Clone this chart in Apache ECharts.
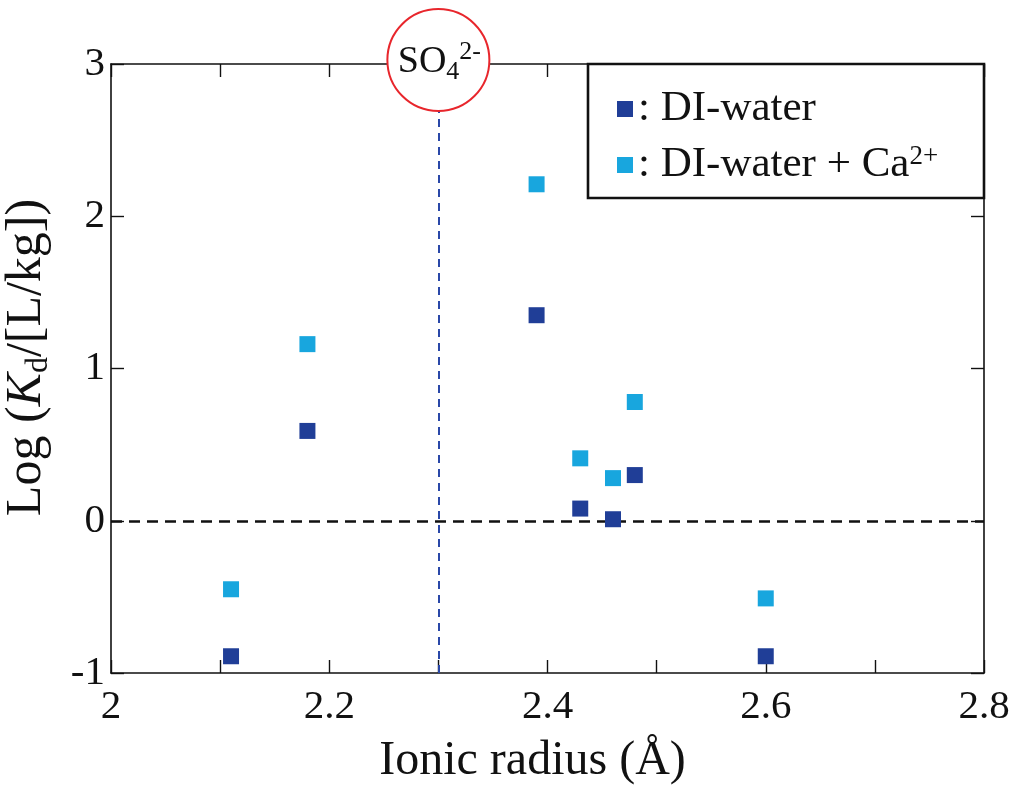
<!DOCTYPE html>
<html>
<head>
<meta charset="utf-8">
<script src="https://cdn.jsdelivr.net/npm/echarts@6/dist/echarts.min.js"></script>
<style>
  html, body { margin: 0; padding: 0; background: #ffffff; }
  #chart { width: 1014px; height: 789px; }
</style>
</head>
<body>
<div id="chart"></div>
<script>
// Ionic radius of each oxyanion (Å)
const radius = [2.11, 2.18, 2.39, 2.43, 2.46, 2.48, 2.60];
// Log Kd in deionised water
const logKdWater = [-0.89, 0.59, 1.35, 0.08, 0.01, 0.30, -0.89];
// Log Kd in deionised water with added Ca2+
const logKdWaterCa = [-0.45, 1.16, 2.21, 0.41, 0.28, 0.78, -0.51];

const seriesNames = ['DI-water', 'DI-water + Ca2+'];
const seriesColors = ['#203e97', '#18a6de'];
const so4Radius = 2.3;   // sulfate reference radius
const xRange = [2, 2.8];
const yRange = [-1, 3];

const FONT = "'Liberation Serif', 'Times New Roman', serif";
const INK = '#111111';

const chart = echarts.init(document.getElementById('chart'), null, { renderer: 'canvas' });

function pairs(xs, ys) { return xs.map((x, i) => [x, ys[i]]); }

const axisLine = { show: true, onZero: false, lineStyle: { color: INK, width: 1.6 } };
const tick = { show: true, inside: true, length: 13, lineStyle: { color: INK, width: 1.4 } };

const option = {
  backgroundColor: '#ffffff',
  animation: false,
  grid: { left: 111, right: 30, top: 64, bottom: 116, outerBoundsMode: 'none' },
  xAxis: [
    {
      type: 'value', min: xRange[0], max: xRange[1], interval: 0.1, position: 'bottom',
      axisLine, axisTick: tick, splitLine: { show: false },
      axisLabel: {
        margin: 14, color: INK, fontFamily: FONT, fontSize: 41,
        formatter: (v, i) => (i % 2 === 0 ? String(+v.toFixed(1)) : '')
      },
      name: 'Ionic radius (Å)', nameLocation: 'middle', nameGap: 64,
      nameTextStyle: { color: INK, fontFamily: FONT, fontSize: 48, verticalAlign: 'top', padding: [0, 30, 0, 0] }
    },
    {
      type: 'value', min: xRange[0], max: xRange[1], interval: 0.1, position: 'top',
      axisLine, axisTick: tick, axisLabel: { show: false }, splitLine: { show: false }
    }
  ],
  yAxis: [
    {
      type: 'value', min: yRange[0], max: yRange[1], interval: 1, position: 'left',
      axisLine, axisTick: tick, splitLine: { show: false },
      axisLabel: { margin: 6, color: INK, fontFamily: FONT, fontSize: 41 },
      name: 'Log ({i|K}{sub|d}/[L/kg])', nameLocation: 'middle', nameGap: 56, nameRotate: 90,
      nameTextStyle: {
        color: INK, fontFamily: FONT, fontSize: 50, lineHeight: 56, padding: [0, 0, 0, 22],
        rich: {
          i: { fontFamily: FONT, fontSize: 50, fontStyle: 'italic', color: INK, lineHeight: 56 },
          sub: { fontFamily: FONT, fontSize: 32, color: INK, verticalAlign: 'bottom', lineHeight: 56 }
        }
      }
    },
    {
      type: 'value', min: yRange[0], max: yRange[1], interval: 1, position: 'right',
      axisLine, axisTick: tick, axisLabel: { show: false }, splitLine: { show: false }
    }
  ],
  legend: {
    orient: 'vertical', left: 612, top: 82,
    itemWidth: 16, itemHeight: 16, itemGap: 12, icon: 'rect',
    data: seriesNames,
    formatter: (name) => name === seriesNames[1] ? ': DI-water + Ca{sup|2+}' : ': ' + name,
    textStyle: {
      color: INK, fontFamily: FONT, fontSize: 43, lineHeight: 44,
      rich: { sup: { fontFamily: FONT, fontSize: 27, color: INK, verticalAlign: 'top', lineHeight: 44 } }
    },
    z: 20
  },
  series: [
    {
      // reference lines: zero level and sulfate radius
      type: 'line', data: [], z: 1, silent: true,
      markLine: {
        silent: true, symbol: ['none', 'none'], label: { show: false },
        data: [
          { yAxis: 0, lineStyle: { color: INK, width: 2.6, type: [11, 7] } },
          { xAxis: so4Radius, lineStyle: { color: '#2a48a8', width: 2, type: [8, 6] } }
        ]
      }
    },
    {
      name: seriesNames[0], type: 'scatter', symbol: 'rect', symbolSize: 16, z: 5,
      itemStyle: { color: seriesColors[0], opacity: 1 },
      data: pairs(radius, logKdWater)
    },
    {
      name: seriesNames[1], type: 'scatter', symbol: 'rect', symbolSize: 16, z: 5,
      itemStyle: { color: seriesColors[1], opacity: 1 },
      data: pairs(radius, logKdWaterCa)
    }
  ]
};

chart.setOption(option);

// Annotations placed from the axes: the SO4 2- bubble and the legend frame
const cx = chart.convertToPixel({ xAxisIndex: 0 }, so4Radius);
const topY = chart.convertToPixel({ yAxisIndex: 0 }, yRange[1]);
const rightX = chart.convertToPixel({ xAxisIndex: 0 }, xRange[1]);

chart.setOption({
  graphic: [
    {
      type: 'rect', z: 10,
      shape: { x: 588, y: topY, width: rightX - 588, height: 134 },
      style: { fill: '#ffffff', stroke: INK, lineWidth: 2.6 }
    },
    {
      type: 'circle', z: 30,
      shape: { cx: cx, cy: topY - 4, r: 51 },
      style: { fill: '#ffffff', stroke: '#e8262c', lineWidth: 2 }
    },
    {
      type: 'text', z: 31, x: cx + 1, y: topY - 2,
      style: {
        text: 'SO{sub|4}{sup|2-}', align: 'center', verticalAlign: 'middle',
        fontFamily: FONT, fontSize: 38, fill: INK, lineHeight: 46,
        rich: {
          sub: { fontFamily: FONT, fontSize: 26, fill: INK, verticalAlign: 'bottom', lineHeight: 46 },
          sup: { fontFamily: FONT, fontSize: 26, fill: INK, verticalAlign: 'top', lineHeight: 46 }
        }
      }
    }
  ]
});
</script>
</body>
</html>
